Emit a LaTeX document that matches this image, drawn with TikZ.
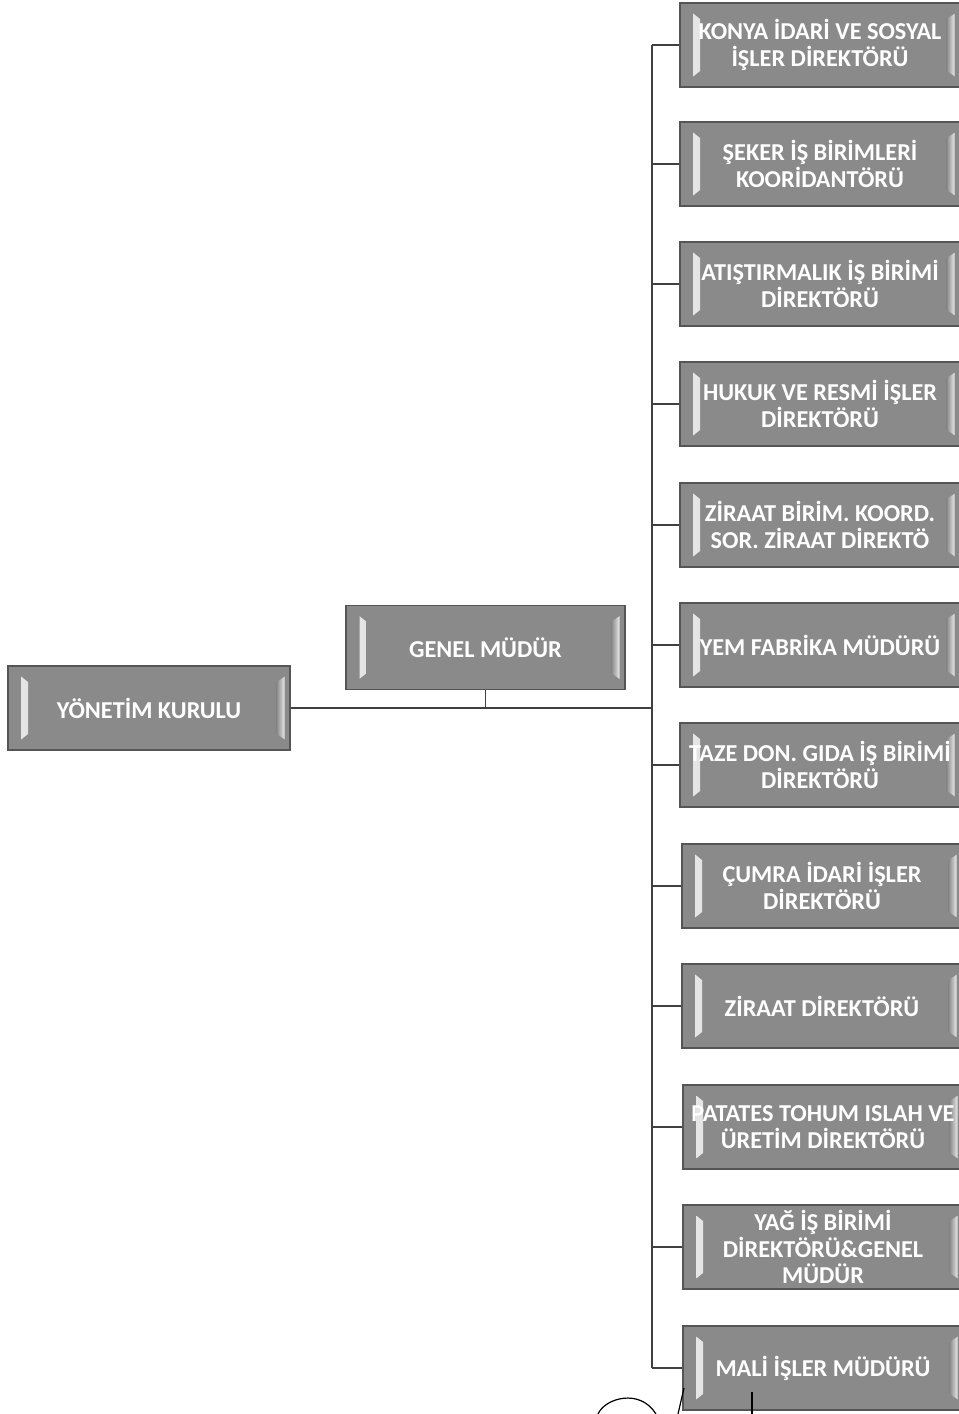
\documentclass[tikz,border=0pt]{standalone}
\usepackage{fontspec}
\setmainfont{Carlito}
\usetikzlibrary{calc}
\definecolor{boxgray}{HTML}{8A8A8A}
\definecolor{boxedge}{HTML}{555555}
\definecolor{bevel}{HTML}{EAEAEA}
\tikzset{
  orgbox/.style={draw=boxedge, line width=1.1pt, fill=boxgray,
    minimum width=210pt, minimum height=63pt, inner sep=0pt,
    text=white, font=\bfseries\fontsize{18.2}{19.8}\selectfont, align=center,
    path picture={
      \shade[left color=bevel, right color=boxgray]
        ($(path picture bounding box.north west)+(10pt,-8pt)$) --
        ($(path picture bounding box.north west)+(15pt,-12pt)$) --
        ($(path picture bounding box.south west)+(15pt,12pt)$) --
        ($(path picture bounding box.south west)+(10pt,8pt)$) -- cycle;
      \shade[left color=boxgray, right color=bevel]
        ($(path picture bounding box.north east)+(-10pt,-12pt)$) --
        ($(path picture bounding box.north east)+(-4pt,-8pt)$) --
        ($(path picture bounding box.south east)+(-4pt,8pt)$) --
        ($(path picture bounding box.south east)+(-10pt,12pt)$) -- cycle;
    }},
  link/.style={draw=black!75, line width=1.1pt},
  sig/.style={draw=black, line width=0.9pt}
}
\begin{document}
\begin{tikzpicture}[x=0.75pt,y=-0.75pt]
\useasboundingbox (0,0) rectangle (959,1414);
\node[orgbox, minimum width=211.5pt] (yk) at (149,708) {YÖNETİM KURULU};
\node[orgbox, minimum width=209pt] (gm) at (485.5,647.5) {GENEL MÜDÜR};
\coordinate (trunk) at (652,708);
\node[orgbox] (r1) at (820,45) {KONYA İDARİ VE SOSYAL\\İŞLER DİREKTÖRÜ};
\node[orgbox] (r2) at (820,164) {ŞEKER İŞ BİRİMLERİ\\KOORİDANTÖRÜ};
\node[orgbox] (r3) at (820,284) {ATIŞTIRMALIK İŞ BİRİMİ\\DİREKTÖRÜ};
\node[orgbox] (r4) at (820,404) {HUKUK VE RESMİ İŞLER\\DİREKTÖRÜ};
\node[orgbox] (r5) at (820,525) {ZİRAAT BİRİM. KOORD.\\SOR. ZİRAAT DİREKTÖ};
\node[orgbox] (r6) at (820,645) {YEM FABRİKA MÜDÜRÜ};
\node[orgbox] (r7) at (820,765) {TAZE DON. GIDA İŞ BİRİMİ\\DİREKTÖRÜ};
\node[orgbox] (r8) at (822,886) {ÇUMRA İDARİ İŞLER\\DİREKTÖRÜ};
\node[orgbox] (r9) at (822,1006) {ZİRAAT DİREKTÖRÜ};
\node[orgbox] (r10) at (823,1127) {PATATES TOHUM ISLAH VE\\ÜRETİM DİREKTÖRÜ};
\node[orgbox] (r11) at (823,1247) {YAĞ İŞ BİRİMİ\\DİREKTÖRÜ\&GENEL\\MÜDÜR};
\node[orgbox] (r12) at (823,1368) {MALİ İŞLER MÜDÜRÜ};
% connectors
\draw[link] (yk.east) -- (trunk);
\draw[link] (gm.south) -- (gm.south |- trunk);
\draw[link] (r1.west -| trunk) -- (r12.west -| trunk);
\foreach \i in {1,...,12}{
  \draw[link] (r\i.west -| trunk) -- (r\i.west);
}
% signature strokes
\draw[sig] (598,1414) .. controls (605,1398) and (640,1388) .. (656,1414);
\draw[sig] (684,1388) -- (678,1414);
\draw[sig] (752,1392) -- (752,1414);
\end{tikzpicture}
\end{document}
